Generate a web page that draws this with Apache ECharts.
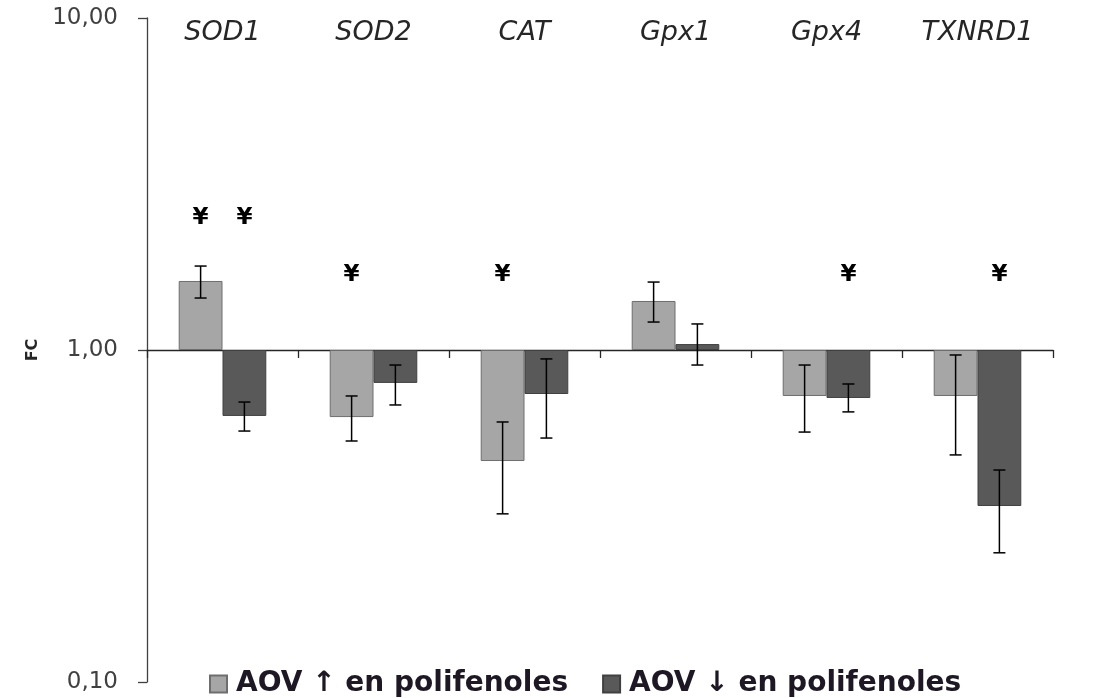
<!DOCTYPE html>
<html>
<head>
<meta charset="utf-8">
<script src="https://cdn.jsdelivr.net/npm/echarts@6/dist/echarts.min.js"></script>
<style>html,body{margin:0;padding:0;background:#fff;}#main{width:1096px;height:698px;}</style>
</head>
<body>
<div id="main"></div>
<script>
// ---- data ----
const categories = ['SOD1', 'SOD2', 'CAT', 'Gpx1', 'Gpx4', 'TXNRD1'];
const seriesNames = ['AOV \u2191 en polifenoles', 'AOV \u2193 en polifenoles'];
const highFC   = [1.614, 0.628, 0.463, 1.405, 0.727, 0.727];
const highLow  = [1.434, 0.532, 0.321, 1.214, 0.566, 0.483];
const highHigh = [1.790, 0.727, 0.607, 1.602, 0.901, 0.966];
const lowFC    = [0.633, 0.796, 0.737, 1.042, 0.717, 0.339];
const lowLow   = [0.570, 0.683, 0.543, 0.901, 0.651, 0.245];
const lowHigh  = [0.697, 0.901, 0.940, 1.198, 0.790, 0.435];
// significance marks (¥): category index, series index, FC level
const markCat    = [0, 0, 1, 2, 4, 5];
const markSeries = [0, 1, 0, 0, 1, 1];
const markValue  = [2.50, 2.50, 1.68, 1.68, 1.68, 1.68];
const yTickLabels = {0.1: '0,10', 1: '1,00', 10: '10,00'};

// ---- chart ----
const GAP = 0.42;
const chart = echarts.init(document.getElementById('main'), null, {renderer: 'canvas'});

const errData = [];
categories.forEach((c, i) => {
  errData.push([i, highLow[i], highHigh[i], 0]);
  errData.push([i, lowLow[i], lowHigh[i], 1]);
});
const markData = markCat.map((c, i) => [c, markValue[i], markSeries[i]]);

function barCenterX(api, cat, s) {
  const center = api.coord([cat, 1]);
  const band = api.size([1, 0], [cat, 1])[0];
  const bw = band * (1 - GAP) / 2;
  return center[0] + (s === 0 ? -bw / 2 : bw / 2);
}

const option = {
  animation: false,
  backgroundColor: '#fff',
  grid: {left: 147, right: 43, top: 18, bottom: 16, containLabel: false},
  legend: {
    data: seriesNames,
    left: 204, top: 665,
    itemWidth: 17, itemHeight: 17, itemGap: 34,
    icon: 'rect',
    textStyle: {fontFamily: 'DejaVu Sans', fontWeight: 'bold', fontSize: 28, color: '#1e1824', padding: [0, 0, 0, 4]}
  },
  xAxis: [
    {
      type: 'category', data: categories, position: 'bottom',
      axisLine: {onZero: false, lineStyle: {color: '#262626', width: 1.3}},
      axisTick: {show: true, inside: false, length: 8, lineStyle: {color: '#262626', width: 1.3}},
      axisLabel: {show: false}, splitLine: {show: false}
    },
    {
      type: 'category', data: categories, position: 'top',
      axisLine: {show: false}, axisTick: {show: false}, splitLine: {show: false},
      axisLabel: {inside: true, margin: 1, fontFamily: 'DejaVu Sans', fontStyle: 'italic', fontSize: 27, color: '#262626'}
    }
  ],
  yAxis: {
    type: 'log', logBase: 10, min: 0.1, max: 10,
    name: 'FC', nameLocation: 'middle', nameGap: 94, nameRotate: 90,
    nameTextStyle: {fontFamily: 'DejaVu Sans', fontWeight: 'bold', fontSize: 16, color: '#262626'},
    axisLine: {show: true, lineStyle: {color: '#404040', width: 1.3}},
    axisTick: {show: true, inside: false, length: 9, lineStyle: {color: '#404040', width: 1.3}},
    axisLabel: {margin: 29, fontFamily: 'DejaVu Sans', fontSize: 23, color: '#404040',
      formatter: v => yTickLabels[v] !== undefined ? yTickLabels[v] : ''},
    splitLine: {show: false}, minorTick: {show: false}
  },
  series: [
    {
      name: seriesNames[0], type: 'bar', data: highFC, xAxisIndex: 0,
      barGap: '0%', barCategoryGap: (GAP * 100) + '%',
      itemStyle: {color: '#a6a6a6', borderColor: '#6e6e6e', borderWidth: 1}
    },
    {
      name: seriesNames[1], type: 'bar', data: lowFC, xAxisIndex: 0,
      barGap: '0%', barCategoryGap: (GAP * 100) + '%',
      itemStyle: {color: '#595959', borderColor: '#404040', borderWidth: 1}
    },
    {
      type: 'custom', xAxisIndex: 0, data: errData, z: 10, silent: true,
      renderItem: function (params, api) {
        const cat = api.value(0), lo = api.value(1), hi = api.value(2), s = api.value(3);
        const x = barCenterX(api, cat, s);
        const yLo = api.coord([cat, lo])[1];
        const yHi = api.coord([cat, hi])[1];
        const cap = 6;
        const st = {stroke: '#000', lineWidth: 1.5};
        return {type: 'group', children: [
          {type: 'line', shape: {x1: x, y1: yLo, x2: x, y2: yHi}, style: st},
          {type: 'line', shape: {x1: x - cap, y1: yLo, x2: x + cap, y2: yLo}, style: st},
          {type: 'line', shape: {x1: x - cap, y1: yHi, x2: x + cap, y2: yHi}, style: st}
        ]};
      }
    },
    {
      type: 'custom', xAxisIndex: 0, data: markData, z: 10, silent: true,
      renderItem: function (params, api) {
        const cat = api.value(0), v = api.value(1), s = api.value(2);
        const x = barCenterX(api, cat, s);
        const y = api.coord([cat, v])[1];
        return {type: 'text', x: x, y: y, style: {text: '\u00a5', fill: '#000',
          font: 'bold 23px "DejaVu Sans"', align: 'center', verticalAlign: 'middle'}};
      }
    }
  ]
};
chart.setOption(option);
// move the category axis line to cross at FC = 1
const y1 = chart.convertToPixel({yAxisIndex: 0}, 1);
const yMin = chart.convertToPixel({yAxisIndex: 0}, 0.1);
chart.setOption({xAxis: [{offset: -(yMin - y1)}, {}]});
</script>
</body>
</html>
